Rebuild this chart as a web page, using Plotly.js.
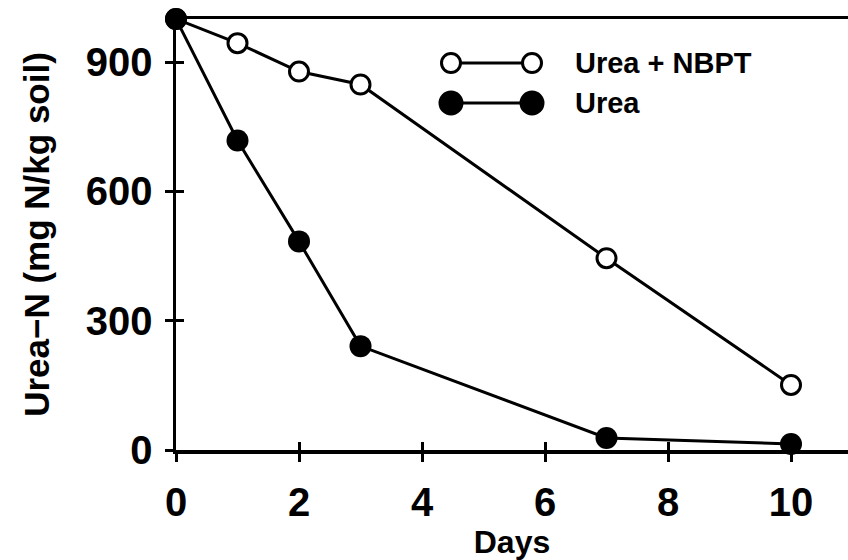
<!DOCTYPE html>
<html>
<head>
<meta charset="utf-8">
<script src="https://cdn.plot.ly/plotly-3.0.1.min.js"></script>
<style>
  html, body { margin: 0; padding: 0; background: #fff; }
  #chart { width: 848px; height: 560px; }
</style>
</head>
<body>
<div id="chart"></div>
<script>
// Urea-N remaining in soil over time, with and without the urease inhibitor NBPT
const days = [0, 1, 2, 3, 7, 10];
const ureaNbpt = [1000, 944, 878, 848, 445, 151];
const urea = [1000, 718, 484, 241, 28, 14];
const seriesNames = ['Urea + NBPT', 'Urea'];
const xTicks = [0, 2, 4, 6, 8, 10];
const yTicks = [0, 300, 600, 900];

const FONT = 'Liberation Sans, Arial, sans-serif';
const INK = '#000';

const traces = [
  {
    x: days, y: ureaNbpt, name: seriesNames[0], type: 'scatter', mode: 'lines+markers',
    line: { color: INK, width: 3 },
    marker: { symbol: 'circle', size: 19, color: '#fff', line: { color: INK, width: 3 } },
    cliponaxis: false, showlegend: false
  },
  {
    x: days, y: urea, name: seriesNames[1], type: 'scatter', mode: 'lines+markers',
    line: { color: INK, width: 3 },
    marker: { symbol: 'circle', size: 22, color: INK },
    cliponaxis: false, showlegend: false
  }
];

// Plot-area geometry in pixels, used to place the legend key
const L = 176, T = 19, W = 672, H = 431;
const px = v => (v - L) / W;
const py = v => (T + H - v) / H;

const legendRows = [
  { y: 63, fill: '#fff', size: 19, label: seriesNames[0] },
  { y: 103, fill: INK, size: 22, label: seriesNames[1] }
];
const shapes = [];
const annotations = [];
legendRows.forEach(r => {
  shapes.push({ type: 'line', xref: 'paper', yref: 'paper',
    x0: px(452), x1: px(531), y0: py(r.y), y1: py(r.y),
    line: { color: INK, width: 3 } });
  [451, 532].forEach(cx => {
    shapes.push({ type: 'circle', xref: 'paper', yref: 'paper',
      xsizemode: 'pixel', ysizemode: 'pixel',
      xanchor: px(cx), yanchor: py(r.y),
      x0: -r.size / 2, x1: r.size / 2, y0: -r.size / 2, y1: r.size / 2,
      fillcolor: r.fill, line: { color: INK, width: 3 } });
  });
  annotations.push({ xref: 'paper', yref: 'paper', x: px(573), y: py(r.y),
    xanchor: 'left', yanchor: 'middle', showarrow: false, text: r.label,
    font: { family: FONT, size: 29, color: INK, weight: 'bold' } });
});

const axisCommon = {
  showgrid: false, zeroline: false, showline: true,
  linecolor: INK, linewidth: 3.5,
  ticks: 'outside', ticklen: 8, tickwidth: 3, tickcolor: INK,
  tickfont: { family: FONT, size: 40, color: INK, weight: 'bold' }
};

const layout = {
  width: 848, height: 560,
  margin: { l: L, r: 0, t: T, b: 560 - T - H },
  paper_bgcolor: '#fff', plot_bgcolor: '#fff',
  showlegend: false,
  xaxis: Object.assign({}, axisCommon, {
    range: [0, (848 - L) / 61.5], tickvals: xTicks, mirror: true,
    ticklabelstandoff: 6,
    title: { text: 'Days', standoff: 20,
      font: { family: FONT, size: 32, color: INK, weight: 'bold' } }
  }),
  yaxis: Object.assign({}, axisCommon, {
    range: [0, 1000], tickvals: yTicks,
    ticklabelstandoff: 4,
    title: { text: 'Urea\u2212N (mg N/kg soil)', standoff: 26,
      font: { family: FONT, size: 35, color: INK, weight: 'bold' } }
  }),
  // inner halves of the crossing tick marks
  xaxis2: { overlaying: 'x', matches: 'x', anchor: 'y', side: 'bottom', tickvals: xTicks,
    showticklabels: false, showgrid: false, zeroline: false, showline: false,
    ticks: 'inside', ticklen: 8, tickwidth: 3, tickcolor: INK },
  yaxis2: { overlaying: 'y', matches: 'y', anchor: 'x', side: 'left', tickvals: yTicks,
    showticklabels: false, showgrid: false, zeroline: false, showline: false,
    ticks: 'inside', ticklen: 8, tickwidth: 3, tickcolor: INK },
  shapes: shapes,
  annotations: annotations
};

// an empty trace on the overlay axes so the inner tick marks are rendered
traces.unshift({ x: [], y: [], xaxis: 'x2', yaxis: 'y2', type: 'scatter', showlegend: false, hoverinfo: 'skip' });

Plotly.newPlot('chart', traces, layout, { staticPlot: true });
</script>
</body>
</html>
